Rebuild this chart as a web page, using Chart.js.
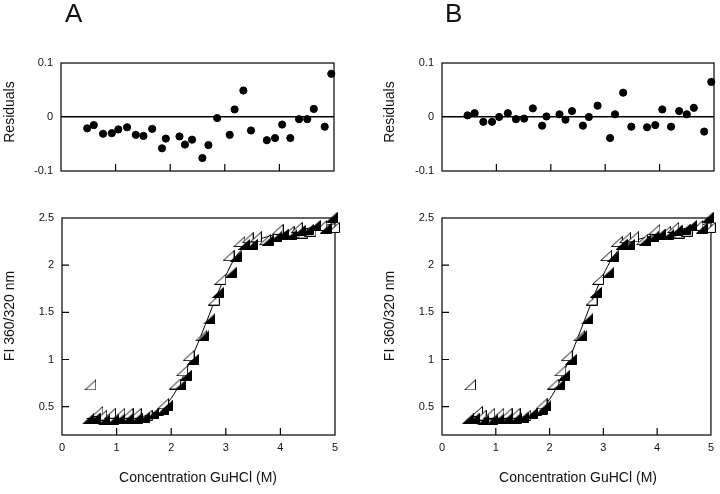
<!DOCTYPE html>
<html>
<head>
<meta charset="utf-8">
<script src="https://cdn.jsdelivr.net/npm/chart.js@4/dist/chart.umd.min.js"></script>
<style>
  body { margin: 0; background: #fff; }
  #wrap { position: relative; width: 720px; height: 494px; font-family: "Liberation Sans", Arial, sans-serif; color: #111; }
  canvas { position: absolute; left: 0; top: 0; }
  .lbl { position: absolute; white-space: nowrap; font-size: 14px; }
  .rot { transform: translate(-50%, -50%) rotate(-90deg); }
  .ctr { transform: translate(-50%, -50%); }
  .big { position: absolute; font-size: 26px; line-height: 26px; }
</style>
</head>
<body>
<div id="wrap">
  <canvas id="resA" width="720" height="494"></canvas>
  <canvas id="resB" width="720" height="494"></canvas>
  <canvas id="fiA" width="720" height="494"></canvas>
  <canvas id="fiB" width="720" height="494"></canvas>
  <div class="big" style="left:65px;top:0px">A</div>
  <div class="big" style="left:445px;top:0px">B</div>
  <div class="lbl rot" style="left:9px;top:112px">Residuals</div>
  <div class="lbl rot" style="left:389px;top:112px">Residuals</div>
  <div class="lbl rot" style="left:9px;top:316px">FI 360/320 nm</div>
  <div class="lbl rot" style="left:389px;top:316px">FI 360/320 nm</div>
  <div class="lbl ctr" style="left:198px;top:477px">Concentration GuHCl (M)</div>
  <div class="lbl ctr" style="left:578px;top:477px">Concentration GuHCl (M)</div>
</div>
<script>
// axis ticks
const xTicks = [0, 1, 2, 3, 4, 5];
const fiTicks = [0.5, 1, 1.5, 2, 2.5];
const resTicks = [-0.1, 0, 0.1];

// residuals, panel A
const concResA = [0.48, 0.60, 0.77, 0.93, 1.05, 1.21, 1.37, 1.51, 1.67, 1.85, 1.92, 2.17, 2.27, 2.40, 2.59,
  2.70, 2.86, 3.09, 3.18, 3.34, 3.48, 3.77, 3.92, 4.05, 4.20, 4.36, 4.51, 4.63, 4.83, 4.95];
const residA = [-0.021, -0.015, -0.031, -0.030, -0.023, -0.019, -0.033, -0.035, -0.022, -0.058, -0.040, -0.036, -0.051, -0.042, -0.076,
  -0.052, -0.002, -0.033, 0.014, 0.049, -0.025, -0.043, -0.039, -0.014, -0.039, -0.004, -0.004, 0.015, -0.018, 0.080];

// residuals, panel B
const concResB = [0.47, 0.60, 0.76, 0.92, 1.05, 1.21, 1.36, 1.51, 1.67, 1.84, 1.92, 2.16, 2.27, 2.39, 2.59,
  2.70, 2.86, 3.09, 3.18, 3.33, 3.48, 3.77, 3.92, 4.05, 4.21, 4.36, 4.50, 4.63, 4.82, 4.95];
const residB = [0.003, 0.007, -0.009, -0.009, 0.000, 0.007, -0.004, -0.003, 0.016, -0.016, 0.001, 0.005, -0.005, 0.011, -0.016,
  0.000, 0.021, -0.039, 0.005, 0.045, -0.018, -0.019, -0.015, 0.014, -0.018, 0.011, 0.005, 0.017, -0.027, 0.065];

// fluorescence data (filled and open triangles)
const concFilled = [0.48, 0.60, 0.77, 0.93, 1.05, 1.21, 1.37, 1.51, 1.67, 1.85, 1.92, 2.17, 2.27, 2.40, 2.59,
  2.70, 2.86, 3.09, 3.18, 3.34, 3.48, 3.77, 3.92, 4.05, 4.20, 4.36, 4.51, 4.63, 4.83, 4.95];
const fiFilled = [0.37, 0.38, 0.36, 0.36, 0.37, 0.38, 0.38, 0.39, 0.43, 0.47, 0.51, 0.73, 0.83, 1.00, 1.25,
  1.43, 1.71, 1.92, 2.09, 2.22, 2.22, 2.26, 2.30, 2.33, 2.32, 2.37, 2.38, 2.42, 2.39, 2.51];
const concOpen = [0.52, 0.65, 0.72, 0.88, 1.05, 1.20, 1.35, 1.55, 1.75, 1.85, 2.07, 2.20, 2.32, 2.55,
  2.78, 2.90, 3.05, 3.25, 3.40, 3.55, 3.72, 3.95, 4.15, 4.30, 4.40, 4.55, 4.75, 4.98];
const fiOpen = [0.73, 0.45, 0.41, 0.43, 0.43, 0.43, 0.43, 0.41, 0.46, 0.53, 0.74, 0.88, 1.04, 1.25,
  1.63, 1.85, 2.10, 2.25, 2.29, 2.30, 2.27, 2.38, 2.36, 2.40, 2.34, 2.36, 2.42, 2.40];

// fitted curves
const curveX = [0.45, 0.8, 1.2, 1.5, 1.7, 1.9, 2.1, 2.25, 2.4, 2.55, 2.7, 2.85, 3.0, 3.15, 3.3, 3.5, 3.75, 4.0, 4.3, 4.6, 5.0];
const curveA = [0.375, 0.378, 0.385, 0.40, 0.44, 0.52, 0.68, 0.86, 1.05, 1.26, 1.48, 1.70, 1.89, 2.06, 2.17, 2.25, 2.30, 2.34, 2.37, 2.40, 2.44];
const curveB = [0.355, 0.36, 0.37, 0.39, 0.43, 0.51, 0.67, 0.85, 1.05, 1.27, 1.49, 1.71, 1.90, 2.06, 2.17, 2.24, 2.29, 2.32, 2.36, 2.40, 2.45];

const pts = (xs, ys) => xs.map((x, i) => ({ x, y: ys[i] }));
const tickFont = () => ({ family: "'Liberation Sans', Arial, sans-serif", size: 11 });

function triangle(filled) {
  const c = document.createElement("canvas");
  c.width = 12; c.height = 11;
  const g = c.getContext("2d");
  g.beginPath();
  g.moveTo(0.5, 10.5); g.lineTo(11.5, 10.5); g.lineTo(11.5, 0.5); g.closePath();
  g.fillStyle = filled ? "#000" : "#fff";
  g.fill();
  g.strokeStyle = "#000"; g.lineWidth = 1;
  g.stroke();
  return c;
}

// box round the plot area plus inward tick marks
const frame = {
  id: "frame",
  beforeDatasetsDraw(chart, args, opts) {
    const { ctx, chartArea: a, scales } = chart;
    ctx.save();
    ctx.strokeStyle = "#000";
    ctx.lineWidth = 1.2;
    ctx.strokeRect(a.left, a.top, a.width, a.height);
    ctx.beginPath();
    xTicks.slice(1, -1).forEach(v => {
      const x = scales.x.getPixelForValue(v);
      ctx.moveTo(x, a.bottom);
      ctx.lineTo(x, a.bottom - 7);
    });
    (opts.yTicks || []).forEach(v => {
      const y = scales.y.getPixelForValue(v);
      ctx.moveTo(a.left, y);
      ctx.lineTo(a.left + 7, y);
    });
    ctx.stroke();
    ctx.restore();
  }
};

function residChart(id, xs, ys, padLeft, padRight) {
  new Chart(document.getElementById(id), {
    type: "scatter",
    data: {
      datasets: [{
        data: pts(xs, ys),
        pointStyle: "circle",
        pointRadius: 3.6,
        backgroundColor: "#000",
        borderColor: "#000",
        clip: false
      }]
    },
    options: {
      responsive: false,
      animation: false,
      layout: { padding: { left: padLeft, right: padRight, top: 63, bottom: 323 } },
      plugins: { legend: { display: false }, tooltip: { enabled: false }, frame: {} },
      scales: {
        x: {
          type: "linear", min: 0, max: 5,
          ticks: { display: false },
          grid: { display: false },
          border: { display: false },
          afterFit: s => { s.height = 0; }
        },
        y: {
          type: "linear", min: -0.1, max: 0.1,
          afterBuildTicks: s => { s.ticks = resTicks.map(v => ({ value: v })); },
          ticks: {
            color: "#111", font: tickFont(), padding: 8,
            callback: v => (Math.abs(v) < 1e-9 ? "0" : v.toFixed(1))
          },
          grid: {
            drawTicks: false,
            lineWidth: 1.4,
            color: c => (c.tick && Math.abs(c.tick.value) < 1e-9 ? "#000" : "rgba(0,0,0,0)")
          },
          border: { display: false },
          afterFit: s => { s.width = 40; }
        }
      }
    },
    plugins: [frame]
  });
}

function fiChart(id, curve, padLeft, padRight) {
  new Chart(document.getElementById(id), {
    type: "scatter",
    data: {
      datasets: [
        {
          data: pts(concFilled, fiFilled),
          pointStyle: triangle(true),
          pointRadius: 5,
          clip: false
        },
        {
          data: pts(concOpen, fiOpen),
          pointStyle: triangle(false),
          pointRadius: 5,
          clip: false
        },
        {
          data: pts(curveX, curve),
          showLine: true,
          borderColor: "#000",
          borderWidth: 1,
          pointRadius: 0,
          cubicInterpolationMode: "monotone",
          clip: false
        }
      ]
    },
    options: {
      responsive: false,
      animation: false,
      layout: { padding: { left: padLeft, right: padRight, top: 218, bottom: 39 } },
      plugins: { legend: { display: false }, tooltip: { enabled: false }, frame: { yTicks: fiTicks.slice(0, -1) } },
      scales: {
        x: {
          type: "linear", min: 0, max: 5,
          afterBuildTicks: s => { s.ticks = xTicks.map(v => ({ value: v })); },
          ticks: { color: "#111", font: tickFont(), padding: 6, maxRotation: 0, minRotation: 0, autoSkip: false, callback: v => String(v) },
          grid: { display: false, drawTicks: false },
          border: { display: false },
          afterFit: s => { s.height = 20; }
        },
        y: {
          type: "linear", min: 0.2, max: 2.5,
          afterBuildTicks: s => { s.ticks = fiTicks.map(v => ({ value: v })); },
          ticks: { color: "#111", font: tickFont(), padding: 8, callback: v => String(v) },
          grid: { display: false, drawTicks: false },
          border: { display: false },
          afterFit: s => { s.width = 40; }
        }
      }
    },
    plugins: [frame]
  });
}

residChart("resA", concResA, residA, 21, 386);
residChart("resB", concResB, residB, 402, 6);
fiChart("fiA", curveA, 22, 385);
fiChart("fiB", curveB, 402, 5);
</script>
</body>
</html>
